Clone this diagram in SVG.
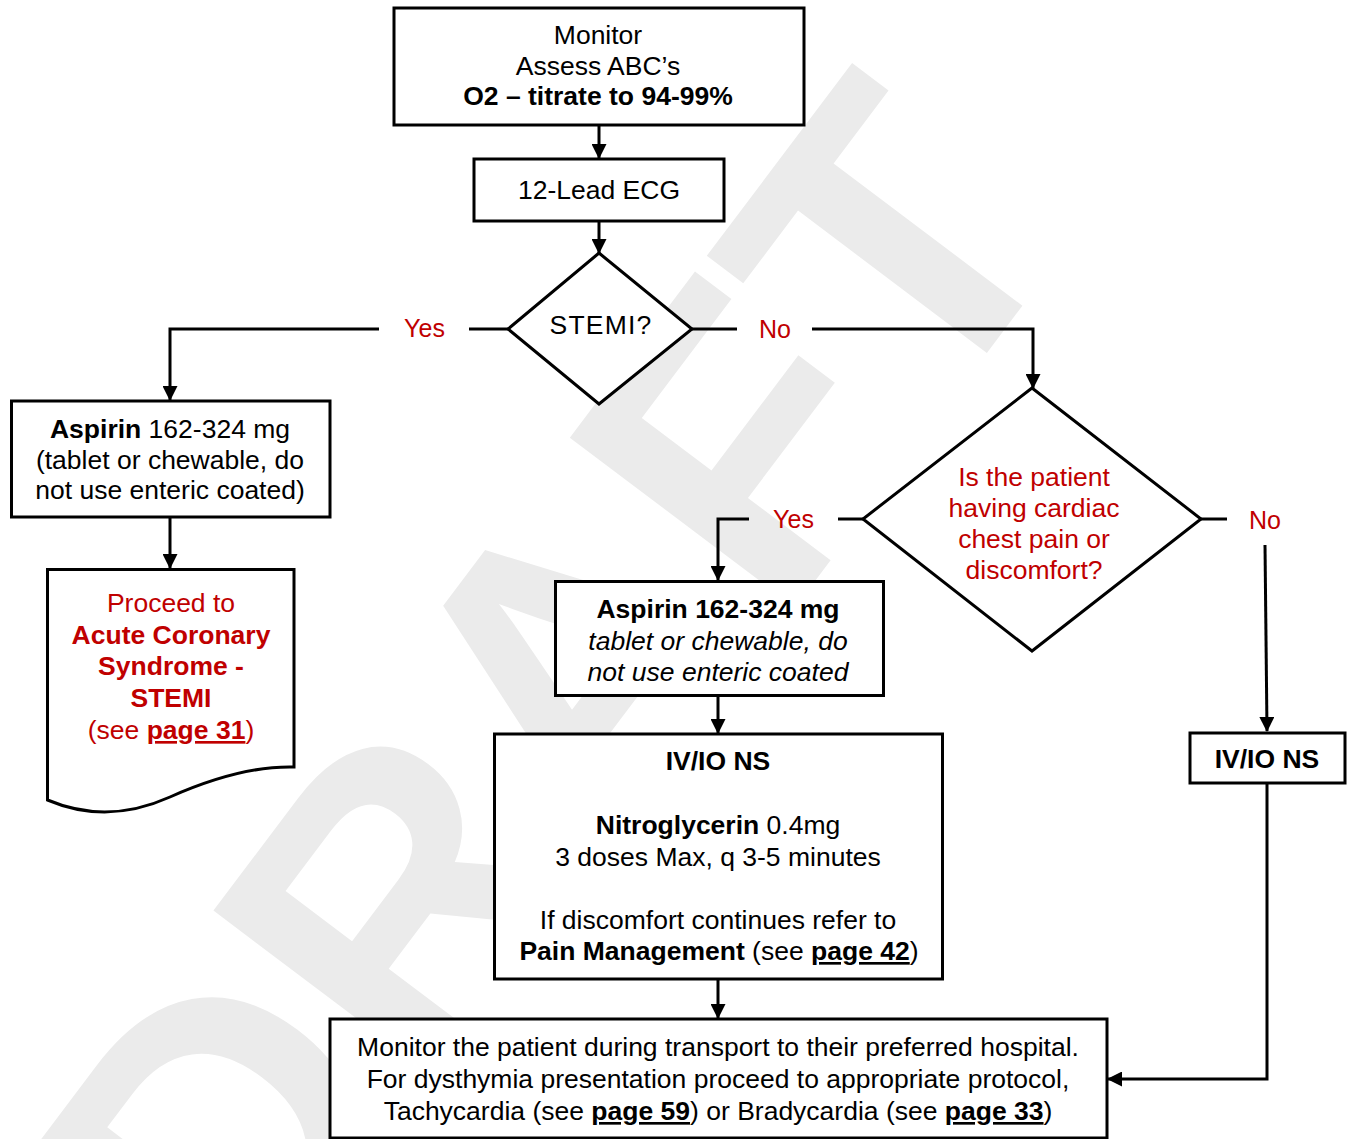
<svg xmlns="http://www.w3.org/2000/svg" width="1353" height="1139" viewBox="0 0 1353 1139">
<defs>
<marker id="arr" markerUnits="userSpaceOnUse" markerWidth="15" markerHeight="15" viewBox="0 0 15 15" refX="14" refY="7.5" orient="auto">
<path d="M0,0 L15,7.5 L0,15 z" fill="#000"/>
</marker>
<style>
.box{fill:#fff;stroke:#000;stroke-width:3}
.wire{fill:none;stroke:#000;stroke-width:3}
.t{font-family:"Liberation Sans",Arial,sans-serif;font-size:26.5px;fill:#000;text-anchor:middle}
.r{fill:#c00000}
.b{font-weight:bold}
.i{font-style:italic}
.u{text-decoration:underline}
.lbl{font-family:"Liberation Sans",Arial,sans-serif;font-size:25px;fill:#c00000;text-anchor:middle}
.wm{font-family:"Liberation Sans",Arial,sans-serif;font-size:410px;font-weight:bold;fill:#ebebeb;text-anchor:middle}
</style>
</defs>
<rect width="1353" height="1139" fill="#fff"/>
<text class="wm" x="662" y="784" transform="rotate(-53 662 784)">DRAFT</text>

<g id="connectors">
<path class="wire" d="M599,126 L599,158" marker-end="url(#arr)"/>
<path class="wire" d="M599,222 L599,253" marker-end="url(#arr)"/>
<path class="wire" d="M508,329 L469,329"/>
<path class="wire" d="M379,329 L170,329 L170,400" marker-end="url(#arr)"/>
<path class="wire" d="M692,329 L737,329"/>
<path class="wire" d="M812,329 L1033,329 L1033,388" marker-end="url(#arr)"/>
<path class="wire" d="M170,518 L170,568" marker-end="url(#arr)"/>
<path class="wire" d="M863,519 L838,519"/>
<path class="wire" d="M749,519 L718,519 L718,580" marker-end="url(#arr)"/>
<path class="wire" d="M1201,519 L1227,519"/>
<path class="wire" d="M1265,545 L1267,731" marker-end="url(#arr)"/>
<path class="wire" d="M718,697 L718,733" marker-end="url(#arr)"/>
<path class="wire" d="M718,980 L718,1018" marker-end="url(#arr)"/>
<path class="wire" d="M1267,784 L1267,1079 L1108,1079" marker-end="url(#arr)"/>
<text class="lbl" x="424.5" y="337">Yes</text>
<text class="lbl" x="775" y="338">No</text>
<text class="lbl" x="793.5" y="528">Yes</text>
<text class="lbl" x="1265" y="529">No</text>
</g>

<g id="monitor">
<rect class="box" x="394" y="8" width="410" height="117"/>
<text class="t" x="598" y="44">Monitor</text>
<text class="t" x="598" y="75">Assess ABC’s</text>
<text class="t b" x="598" y="105">O2 – titrate to 94-99%</text>
</g>

<g id="ecg">
<rect class="box" x="474" y="159" width="250" height="62"/>
<text class="t" x="599" y="199">12-Lead ECG</text>
</g>

<g id="stemi">
<polygon class="box" points="599,253 692,329 599,404 508,329"/>
<text class="t" x="601" y="334" style="letter-spacing:1.2px">STEMI?</text>
</g>

<g id="chestpain">
<polygon class="box" points="1032,388 1201,519 1032,651 863,519"/>
<text class="t r" x="1034" y="486">Is the patient</text>
<text class="t r" x="1034" y="517">having cardiac</text>
<text class="t r" x="1034" y="548">chest pain or</text>
<text class="t r" x="1034" y="579">discomfort?</text>
</g>

<g id="aspirin1">
<rect class="box" x="11.5" y="401" width="318.5" height="116"/>
<text class="t" x="170" y="438"><tspan class="b">Aspirin</tspan> 162-324 mg</text>
<text class="t" x="170" y="469">(tablet or chewable, do</text>
<text class="t" x="170" y="499">not use enteric coated)</text>
</g>

<g id="acs">
<path class="box" d="M47.5,569.5 L294,569.5 L294,767 C255,766 215,777 170,797 C130,815 90,818 47.5,800 Z"/>
<text class="t r" x="171" y="612">Proceed to</text>
<text class="t r b" x="171" y="644">Acute Coronary</text>
<text class="t r b" x="171" y="675">Syndrome -</text>
<text class="t r b" x="171" y="707">STEMI</text>
<text class="t r" x="171" y="739">(see <tspan class="b u">page 31</tspan>)</text>
</g>

<g id="aspirin2">
<rect class="box" x="555.5" y="581.5" width="328" height="114"/>
<text class="t b" x="718" y="618">Aspirin 162-324 mg</text>
<text class="t i" x="718" y="650">tablet or chewable, do</text>
<text class="t i" x="718" y="681">not use enteric coated</text>
</g>

<g id="ivnitro">
<rect class="box" x="494.5" y="734" width="448" height="245"/>
<text class="t b" x="718" y="770">IV/IO NS</text>
<text class="t" x="718" y="834"><tspan class="b">Nitroglycerin</tspan> 0.4mg</text>
<text class="t" x="718" y="866">3 doses Max, q 3-5 minutes</text>
<text class="t" x="718" y="929">If discomfort continues refer to</text>
<text class="t" x="719" y="960"><tspan class="b">Pain Management</tspan> (see <tspan class="b u">page 42</tspan>)</text>
</g>

<g id="ivns">
<rect class="box" x="1190" y="733" width="155" height="50"/>
<text class="t b" x="1267" y="768">IV/IO NS</text>
</g>

<g id="transport">
<rect class="box" x="330" y="1019" width="777" height="119"/>
<text class="t" x="718" y="1056">Monitor the patient during transport to their preferred hospital.</text>
<text class="t" x="718" y="1088">For dysthymia presentation proceed to appropriate protocol,</text>
<text class="t" x="718" y="1120">Tachycardia (see <tspan class="b u">page 59</tspan>) or Bradycardia (see <tspan class="b u">page 33</tspan>)</text>
</g>
</svg>
